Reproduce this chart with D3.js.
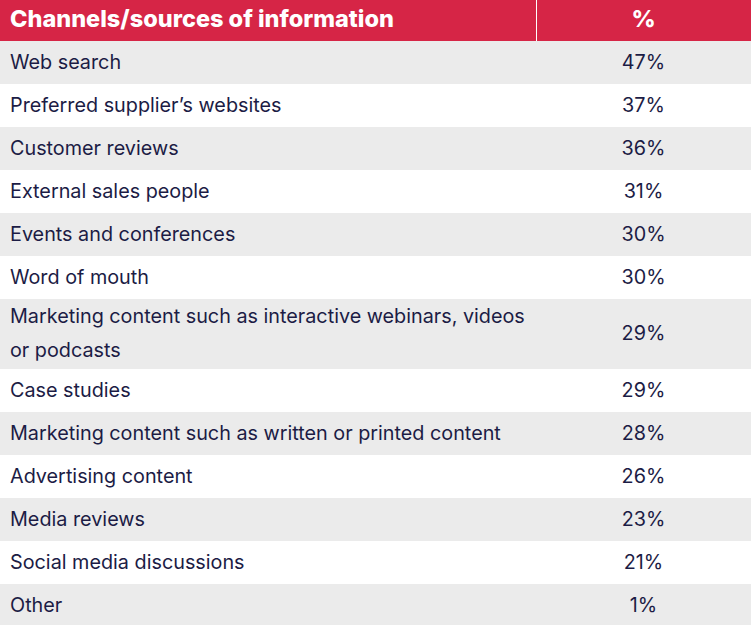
<!DOCTYPE html>
<html><head><meta charset="utf-8">
<script src="https://cdn.jsdelivr.net/npm/d3@7"></script>
<style>html,body{margin:0;padding:0;background:#fff;}</style>
</head><body>
<svg id="c" width="751" height="625"></svg>
<script>
const headers = ["Channels/sources of information", "%"];
const categories = [
  ["Web search"],
  ["Preferred supplier\u2019s websites"],
  ["Customer reviews"],
  ["External sales people"],
  ["Events and conferences"],
  ["Word of mouth"],
  ["Marketing content such as interactive webinars, videos", "or podcasts"],
  ["Case studies"],
  ["Marketing content such as written or printed content"],
  ["Advertising content"],
  ["Media reviews"],
  ["Social media discussions"],
  ["Other"]
];
const values = [47, 37, 36, 31, 30, 30, 29, 29, 28, 26, 23, 21, 1];

const W = 751, H = 625, headerH = 41, divX = 536;
const rowH1 = 43, rowH2 = 70;
const svg = d3.select("#c");
const font = "Inter, 'Noto Sans', sans-serif";
const textCol = "#1c1c45";

const rows = categories.map((c, i) => ({lines: c, v: values[i], h: c.length > 1 ? rowH2 : rowH1}));
let y = headerH;
rows.forEach(r => { r.y = y; y += r.h; });
const xs = d3.scaleLinear().domain([0, 1]).range([0, W]);

svg.append("rect").attr("x", 0).attr("y", 0).attr("width", W).attr("height", headerH).attr("fill", "#d62546");
svg.append("line").attr("x1", divX + 0.5).attr("x2", divX + 0.5).attr("y1", 0).attr("y2", headerH).attr("stroke", "#fff").attr("stroke-width", 1);
svg.append("text").attr("x", 10).attr("y", 27).attr("fill", "#fff").attr("font-family", font).attr("font-weight", 800).attr("font-size", 23.5).text(headers[0]);
svg.append("text").attr("x", (divX + W) / 2).attr("y", 27).attr("text-anchor", "middle").attr("fill", "#fff").attr("font-family", font).attr("font-weight", 800).attr("font-size", 23.5).text(headers[1]);

const g = svg.selectAll("g.row").data(rows).join("g").attr("class", "row");
g.append("rect").attr("x", xs(0)).attr("y", d => d.y).attr("width", xs(1)).attr("height", d => d.h)
  .attr("fill", (d, i) => i % 2 === 0 ? "#ebebeb" : "#ffffff");
g.each(function(d) {
  const sel = d3.select(this);
  const n = d.lines.length;
  const lh = 34;
  const c = d.y + d.h / 2;
  d.lines.forEach((t, k) => {
    sel.append("text").attr("x", 10).attr("y", c + 6 + (k - (n - 1) / 2) * lh)
      .attr("fill", textCol).attr("font-family", font).attr("font-size", 19.8).text(t);
  });
  sel.append("text").attr("x", (divX + W) / 2).attr("y", c + 6).attr("text-anchor", "middle")
    .attr("fill", textCol).attr("font-family", font).attr("font-size", 19.8).text(d.v + "%");
});
</script>
</body></html>
